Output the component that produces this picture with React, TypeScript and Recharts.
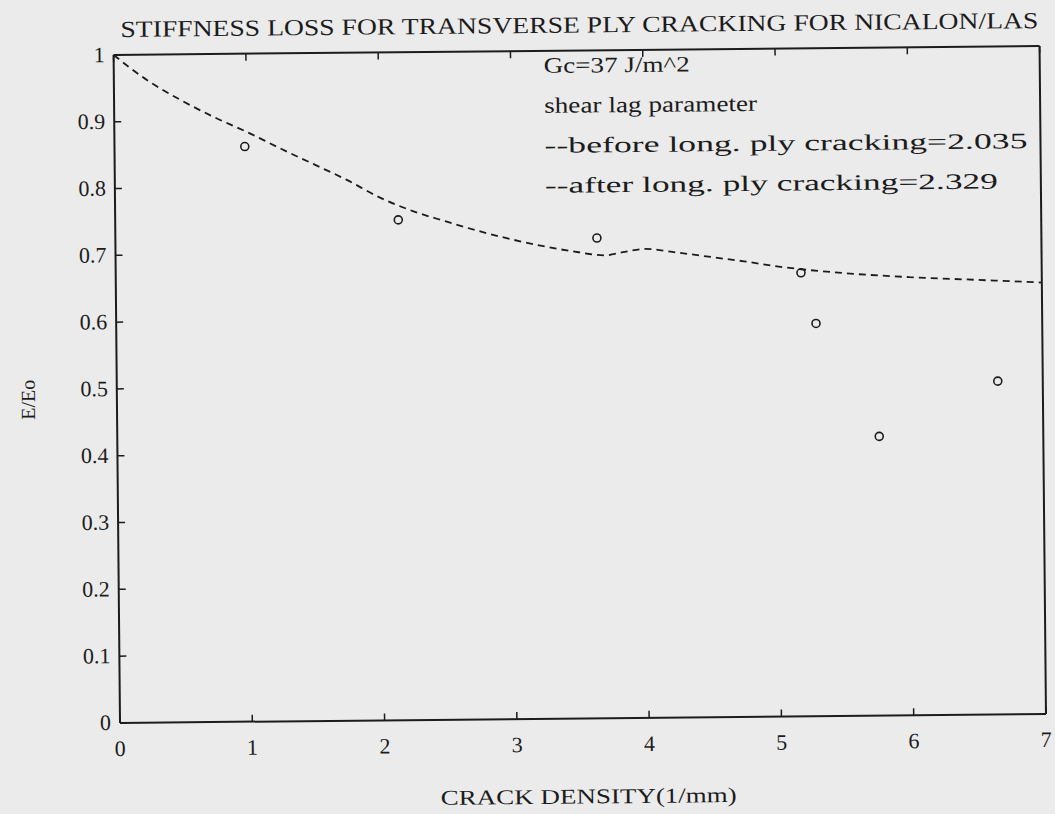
import React from 'react';
import { ComposedChart, Line, Scatter, XAxis, YAxis } from 'recharts';

// measured E/Eo vs crack density (1/mm)
const testDensity = [0.985, 2.14, 3.64, 5.18, 5.29, 5.76, 6.66];
const testStiffness = [0.861, 0.749, 0.719, 0.664, 0.588, 0.418, 0.499];

// shear lag prediction (dashed curve)
const modelDensity = [0, 0.25, 0.5, 0.75, 1, 1.25, 1.5, 1.75, 2, 2.25, 2.5, 2.75, 3, 3.25, 3.5, 3.7, 3.85, 4, 4.25, 4.5, 4.75, 5, 5.5, 6, 6.5, 7];
const modelStiffness = [1.0, 0.962, 0.932, 0.906, 0.883, 0.858, 0.834, 0.81, 0.783, 0.762, 0.746, 0.731, 0.718, 0.707, 0.698, 0.693, 0.698, 0.702, 0.696, 0.689, 0.682, 0.674, 0.663, 0.656, 0.651, 0.646];

const xTicks = [0, 1, 2, 3, 4, 5, 6, 7];
const yTicks = [0, 0.1, 0.2, 0.3, 0.4, 0.5, 0.6, 0.7, 0.8, 0.9, 1];

const notes = [
  'Gc=37 J/m^2',
  'shear lag parameter',
  '--before long. ply cracking=2.035',
  '--after long. ply cracking=2.329',
];
const noteWidths = [146, 213, 483, 453];

const FONT = '"Liberation Serif", "Times New Roman", serif';
const INK = '#1c1c1c';
const TICK = 7;

const points = testDensity.map((x, i) => ({ x, y: testStiffness[i] }));
const curve = modelDensity.map((x, i) => ({ x, y: modelStiffness[i] }));

const BottomTick = ({ x, y, payload }: any) => (
  <g>
    <line x1={x} y1={y} x2={x} y2={y - TICK} stroke={INK} strokeWidth={1.5} />
    <text x={x} y={y + 33} textAnchor="middle" fontSize={22} fontFamily={FONT} fill={INK}>
      {payload.value}
    </text>
  </g>
);

const TopTick = ({ x, y }: any) => (
  <line x1={x} y1={y} x2={x} y2={y + TICK} stroke={INK} strokeWidth={1.5} />
);

const LeftTick = ({ x, y, payload }: any) => (
  <g>
    <line x1={x} y1={y} x2={x + TICK} y2={y} stroke={INK} strokeWidth={1.5} />
    <text x={x - 9} y={y + 7} textAnchor="end" fontSize={22} fontFamily={FONT} fill={INK}>
      {String(payload.value)}
    </text>
  </g>
);

const RightTick = ({ x, y }: any) => (
  <line x1={x} y1={y} x2={x - TICK} y2={y} stroke={INK} strokeWidth={1.5} />
);

const OpenCircle = ({ cx, cy }: any) => (
  <circle cx={cx} cy={cy} r={4} fill="none" stroke={INK} strokeWidth={1.6} />
);

export default function App() {
  return (
    <div style={{ position: 'absolute', left: 0, top: 0, width: 1055, height: 814, background: '#ebebeb', overflow: 'hidden' }}>
      {/* the scanned page sits slightly rotated */}
      <div style={{ position: 'absolute', left: 0, top: 0, width: 1055, height: 814, transform: 'rotate(-0.55deg)' }}>
        <ComposedChart
          width={1055}
          height={814}
          data={curve}
          margin={{ top: 50, right: 11, bottom: 94, left: 116 }}
        >
          <XAxis
            xAxisId="b"
            type="number"
            dataKey="x"
            domain={[0, 7]}
            ticks={xTicks}
            interval={0}
            height={1}
            tickSize={0}
            tickMargin={0}
            tickLine={false}
            tick={<BottomTick />}
            axisLine={{ stroke: INK, strokeWidth: 2 }}
          />
          <XAxis
            xAxisId="t"
            orientation="top"
            type="number"
            dataKey="x"
            domain={[0, 7]}
            ticks={xTicks}
            interval={0}
            height={1}
            tickSize={0}
            tickMargin={0}
            tickLine={false}
            tick={<TopTick />}
            axisLine={{ stroke: INK, strokeWidth: 2 }}
          />
          <YAxis
            yAxisId="l"
            type="number"
            domain={[0, 1]}
            ticks={yTicks}
            interval={0}
            width={1}
            tickSize={0}
            tickMargin={0}
            tickLine={false}
            tick={<LeftTick />}
            axisLine={{ stroke: INK, strokeWidth: 2 }}
          />
          <YAxis
            yAxisId="r"
            orientation="right"
            type="number"
            domain={[0, 1]}
            ticks={yTicks}
            interval={0}
            width={1}
            tickSize={0}
            tickMargin={0}
            tickLine={false}
            tick={<RightTick />}
            axisLine={{ stroke: INK, strokeWidth: 2 }}
          />
          <Line
            xAxisId="b"
            yAxisId="l"
            type="monotone"
            dataKey="y"
            stroke={INK}
            strokeWidth={1.8}
            strokeDasharray="7 5"
            dot={false}
            isAnimationActive={false}
          />
          <Scatter
            xAxisId="b"
            yAxisId="l"
            data={points}
            dataKey="y"
            shape={<OpenCircle />}
            isAnimationActive={false}
          />
        </ComposedChart>
        <svg
          width={1055}
          height={814}
          style={{ position: 'absolute', left: 0, top: 0, pointerEvents: 'none' }}
        >
          <text
            x={583}
            y={33}
            textAnchor="middle"
            fontSize={23}
            fontFamily={FONT}
            fill={INK}
            textLength={918}
            lengthAdjust="spacingAndGlyphs"
          >
            STIFFNESS LOSS FOR TRANSVERSE PLY CRACKING FOR NICALON/LAS
          </text>
          {notes.map((t, i) => (
            <text
              key={t}
              x={547}
              y={73 + i * 40}
              fontSize={22}
              fontFamily={FONT}
              fill={INK}
              textLength={noteWidths[i]}
              lengthAdjust="spacingAndGlyphs"
            >
              {t}
            </text>
          ))}
          <text
            x={585}
            y={804}
            textAnchor="middle"
            fontSize={21}
            fontFamily={FONT}
            fill={INK}
            textLength={296}
            lengthAdjust="spacingAndGlyphs"
          >
            CRACK DENSITY(1/mm)
          </text>
          <text
            x={28}
            y={395}
            transform="rotate(-90 28 395)"
            textAnchor="middle"
            dominantBaseline="central"
            fontSize={20}
            fontFamily={FONT}
            fill={INK}
          >
            E/Eo
          </text>
        </svg>
      </div>
    </div>
  );
}
